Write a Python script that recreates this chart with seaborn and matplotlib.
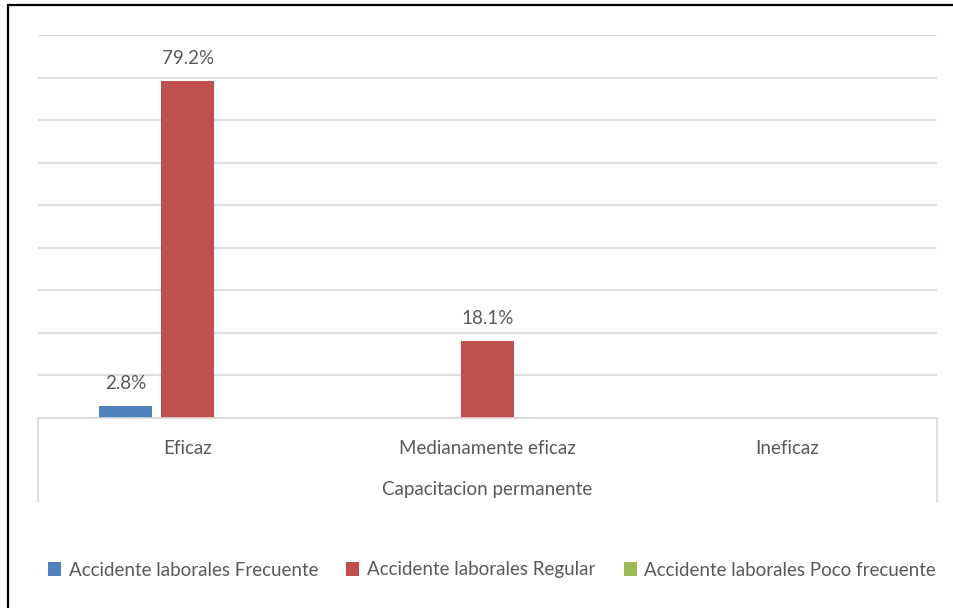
import numpy as np
import pandas as pd
import matplotlib
matplotlib.use("Agg")
import matplotlib.pyplot as plt
import seaborn as sns
from matplotlib.patches import Rectangle

# datos
categorias = ["Eficaz", "Medianamente eficaz", "Ineficaz"]
series = ["Accidente laborales Frecuente", "Accidente laborales Regular",
          "Accidente laborales Poco frecuente"]
frecuente = [2.8, 0.0, 0.0]
regular = [79.2, 18.1, 0.0]
poco_frecuente = [0.0, 0.0, 0.0]
titulo_eje = "Capacitacion permanente"
colores = ["#4F81BD", "#C0504D", "#9BBB59"]

df = pd.DataFrame({
    "categoria": categorias * 3,
    "serie": [series[0]] * 3 + [series[1]] * 3 + [series[2]] * 3,
    "valor": frecuente + regular + poco_frecuente,
})

sns.set_theme(style="white")
plt.rcParams["font.family"] = ["Lato", "DejaVu Sans"]
txt = "#595959"
grid = "#D9D9D9"
fs = 13.5

fig = plt.figure(figsize=(9.54, 6.08), dpi=100)
W, H = 954, 608
ax = fig.add_axes([38 / W, 1 - 418 / H, (937 - 38) / W, (418 - 35) / H])

sns.barplot(data=df, x="categoria", y="valor", hue="serie",
            order=categorias, hue_order=series, palette=colores,
            saturation=1, width=0.624, gap=0.15, linewidth=0, ax=ax)

ax.set_xlim(-0.5, len(categorias) - 0.5)
ax.set_ylim(0, 90)
ax.set_yticks(np.arange(0, 91, 10))
ax.yaxis.grid(True, color=grid, linewidth=1.2)
ax.set_axisbelow(True)
ax.tick_params(axis="y", left=False, labelleft=False)
ax.tick_params(axis="x", bottom=False, labelsize=fs, labelcolor=txt, pad=10)
ax.set_xlabel("")
ax.set_ylabel("")
for s in ["left", "right", "top"]:
    ax.spines[s].set_visible(False)
ax.spines["bottom"].set_color(grid)
ax.spines["bottom"].set_linewidth(1.2)

# etiquetas de datos (solo valores no nulos)
for cont in ax.containers:
    labs = [f"{b.get_height():.1f}%" if b.get_height() > 0 else "" for b in cont]
    ax.bar_label(cont, labels=labs, padding=10, fontsize=fs, color=txt)

# segundo nivel del eje de categorias
hb = (502 - 418) / (418 - 35)
for xv in [0, 1]:
    ax.plot([xv, xv], [0, -hb], transform=ax.transAxes, color=grid,
            linewidth=1.2, clip_on=False)
ax.text(0.5, -(489 - 418) / (418 - 35), titulo_eje, transform=ax.transAxes,
        ha="center", va="center", fontsize=fs, color=txt)

handles, labels = ax.get_legend_handles_labels()
ax.get_legend().remove()
fig.legend(handles, labels, loc="center", bbox_to_anchor=(492 / W, 1 - 570 / H),
           ncol=3, frameon=False, fontsize=fs, labelcolor=txt,
           handlelength=0.7, handleheight=0.7, handletextpad=0.4,
           columnspacing=1.5)

# borde del area del grafico
fig.patches.append(Rectangle((8 / W, -0.1), 1.2, 1.1 - 5 / H,
                             transform=fig.transFigure, fill=False,
                             edgecolor="black", linewidth=1.6))

fig.savefig("out.png", dpi=100)
